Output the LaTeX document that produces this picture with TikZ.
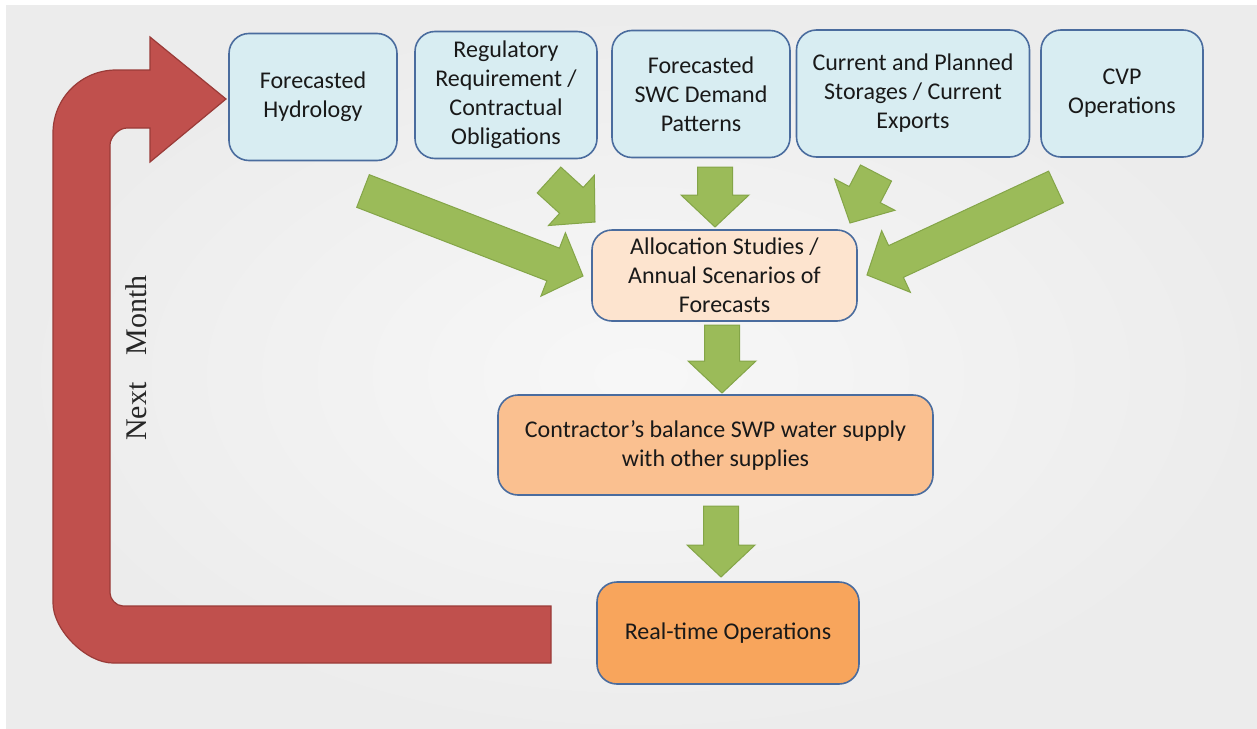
\documentclass[tikz,border=0pt]{standalone}
\usepackage{fontspec}
\setmainfont{Carlito}
\newfontfamily\monthfont{Liberation Serif}
\usepackage{tikz}
\usetikzlibrary{calc, positioning}
\usepackage{xcolor}
\definecolor{boxblue}{HTML}{D8EDF2}
\definecolor{boxpeach}{HTML}{FDE4CF}
\definecolor{boxorange}{HTML}{FAC090}
\definecolor{boxdeep}{HTML}{F8A55C}
\definecolor{boxedge}{HTML}{4A6C9E}
\definecolor{flowgreen}{HTML}{9BBB59}
\definecolor{flowgreenedge}{HTML}{84A548}
\definecolor{loopred}{HTML}{C0504D}
\definecolor{loopredge}{HTML}{9A3B38}

\tikzset{
	stepnode/.style={draw=boxedge, line width=0.8pt, rounded corners=10pt, align=center, inner sep=0pt, text=black!90, font=\fontsize{12}{14.5}\selectfont},
	inputbox/.style={stepnode, fill=boxblue, minimum height=63.5pt},
	flow/.style={fill=flowgreen, draw=flowgreenedge, line width=0.5pt},
	loopback/.style={fill=loopred, draw=loopredge, line width=0.6pt}
}

% fat green arrow from #1 (tail centre) to #2 (tip)
\newcommand{\shaftw}{8.75pt}
\newcommand{\headw}{17pt}
\newcommand{\headl}{16pt}
\newcommand{\blockarrow}[2]{%
	\path ($(#2)!\headl!(#1)$) coordinate (hb);
	\filldraw[flow] ($(#1)!\shaftw!90:(#2)$) -- ($(hb)!\shaftw!90:(#2)$) -- ($(hb)!\headw!90:(#2)$) -- (#2)
		-- ($(hb)!\headw!-90:(#2)$) -- ($(hb)!\shaftw!-90:(#2)$) -- ($(#1)!\shaftw!-90:(#2)$) -- cycle;}

\begin{document}
\begin{tikzpicture}[x=0.5pt, y=-0.5pt]
			\useasboundingbox (0,0) rectangle (1257,728);
			% backdrop
			\fill[white] (0,0) rectangle (1257,728);
			\fill[gray!15] (6,5) rectangle (1275,745);
			\shade[inner color=gray!6, outer color=gray!15] (6,5) rectangle (1275,745);

			% inputs along the top
			\node[inputbox, minimum width=84pt] (hydro) at (313,97) {Forecasted\\Hydrology};
			\node[inputbox, minimum width=91pt] (regul) at (506,95) {Regulatory\\Requirement /\\Contractual\\Obligations};
			\node[inputbox, minimum width=89pt] (demand) at (701,94) {Forecasted\\SWC Demand\\Patterns};
			\node[inputbox, minimum width=116.5pt] (storage) at (913,93.5) {Current and Planned\\Storages / Current\\Exports};
			\node[inputbox, minimum width=81pt] (cvp) at (1122,93.5) {CVP\\Operations};

			\node[stepnode, fill=boxpeach, minimum width=132.5pt, minimum height=45.5pt] (alloc) at (724.5,275.5) {Allocation Studies /\\Annual Scenarios of\\Forecasts};
			\node[stepnode, fill=boxorange, minimum width=217.5pt, minimum height=50pt] (balance) at (715.5,445) {Contractor's balance SWP water supply\\with other supplies};
			\node[stepnode, fill=boxdeep, minimum width=131pt, minimum height=51pt] (realtime) at (728,633) {Real-time Operations};

			% green arrows
			\coordinate (hydro-out) at (363,191);
			\coordinate (alloc-in1) at (583,276);
			\coordinate (regul-out) at (549,180);
			\coordinate (alloc-in2) at (595,222);
			\coordinate (demand-out) at (715,167);
			\coordinate (alloc-in3) at (715,227);
			\coordinate (storage-out) at (876,173);
			\coordinate (alloc-in4) at (850,223);
			\coordinate (cvp-out) at (1056,187);
			\coordinate (alloc-in5) at (867,275);
			\coordinate (alloc-out) at (722,325);
			\coordinate (balance-in) at (722,393);
			\coordinate (balance-out) at (721,506);
			\coordinate (realtime-in) at (721,577);
			\blockarrow{hydro-out}{alloc-in1}
			\blockarrow{regul-out}{alloc-in2}
			\blockarrow{demand-out}{alloc-in3}
			\blockarrow{storage-out}{alloc-in4}
			\blockarrow{cvp-out}{alloc-in5}
			\blockarrow{alloc-out}{balance-in}
			\blockarrow{balance-out}{realtime-in}

			% red loop back to the top
			\filldraw[loopback] (551,606) -- (123,606) .. controls (115.8,606) and (110,598.8) .. (110,593)
				-- (110,145) .. controls (110,137.4) and (118.4,128) .. (127,128)
				-- (150,128) -- (150,162) -- (226,99) -- (150,37) -- (150,70)
				-- (116,70) .. controls (81.2,70) and (53,98.2) .. (53,133)
				-- (53,603) .. controls (53,629.9) and (86.1,663) .. (113,663)
				-- (551,663) -- cycle;
			\node[rotate=90, font=\monthfont\fontsize{15}{18}\selectfont, text=black!85] (nextmonth) at (136,358) {Next\hspace{10pt} Month};
		\end{tikzpicture}
\end{document}
